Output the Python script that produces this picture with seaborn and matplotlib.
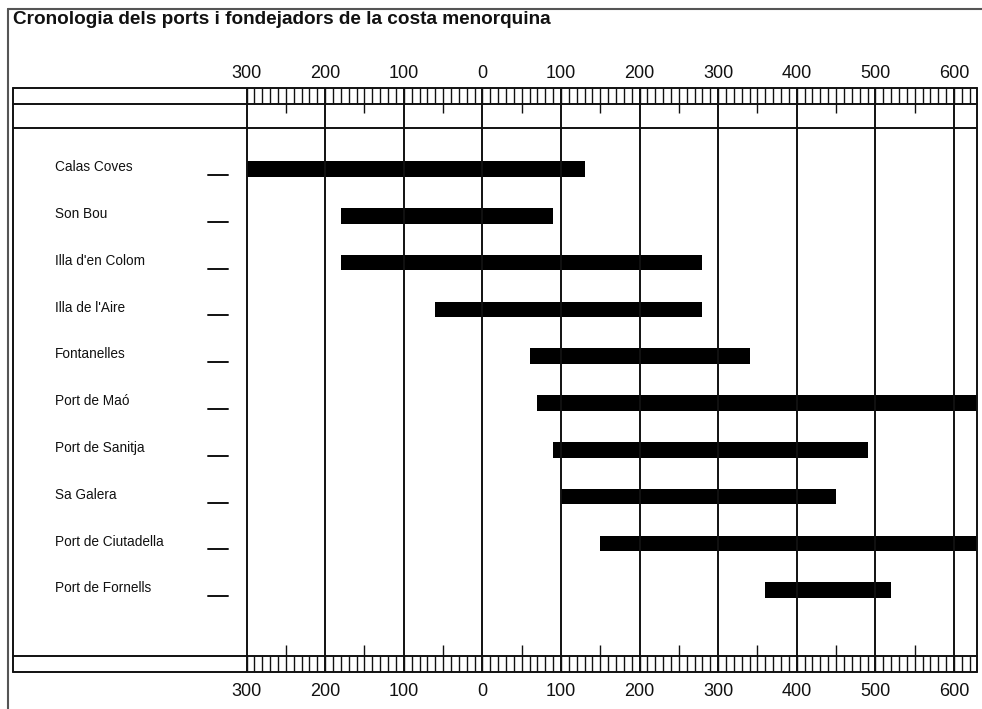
import numpy as np
import pandas as pd
import matplotlib
matplotlib.use("Agg")
import matplotlib.pyplot as plt
import matplotlib.transforms as mtransforms
from matplotlib.lines import Line2D
import seaborn as sns

# ---- data (years; BC negative) ----
sites = ["Calas Coves", "Son Bou", "Illa d'en Colom", "Illa de l'Aire", "Fontanelles",
         "Port de Maó", "Port de Sanitja", "Sa Galera", "Port de Ciutadella", "Port de Fornells"]
start_year = [-300, -180, -180, -60, 60, 70, 90, 100, 150, 360]
end_year = [130, 90, 280, 280, 340, 640, 490, 450, 640, 520]
tick_years = [-300, -200, -100, 0, 100, 200, 300, 400, 500, 600]
tick_labels = ["300", "200", "100", "0", "100", "200", "300", "400", "500", "600"]
title = "Cronologia dels ports i fondejadors de la costa menorquina"

df = pd.DataFrame({"site": sites, "start": start_year, "end": end_year})
df["dur"] = df["end"] - df["start"]

sns.set_style("white")
plt.rcParams["font.family"] = ["Liberation Sans", "DejaVu Sans"]

W, H = 982, 709
fig = plt.figure(figsize=(W / 100, H / 100), dpi=100)
ax_l, ax_r, ax_t, ax_b = 13, 977, 88, 672
ax = fig.add_axes([ax_l / W, (H - ax_b) / H, (ax_r - ax_l) / W, (ax_b - ax_t) / H])

sns.barplot(data=df, x="dur", y="site", orient="h", color="black", saturation=1,
            width=0.33, errorbar=None, linewidth=0, left=df["start"].to_numpy(), ax=ax)

# axis scaling
ax.set_xlim(-597.2, 629.3)
row_px0, row_dpx = 169, 46.8
ax.set_ylim((ax_b - row_px0) / row_dpx, (ax_t - row_px0) / row_dpx)

for s in ax.spines.values():
    s.set_visible(False)
ax.set_xlabel("")
ax.set_ylabel("")
ax.tick_params(axis="y", left=False, labelleft=False)
ax.set_xticks(tick_years)
ax.set_xticklabels(tick_labels)
ax.tick_params(axis="x", which="both", top=False, bottom=False, labeltop=False,
               labelbottom=True, length=0, labelsize=13, pad=8, colors="#111111")
top = ax.secondary_xaxis("top")
top.set_xticks(tick_years)
top.set_xticklabels(tick_labels)
top.tick_params(axis="x", length=0, labelsize=13, pad=4, colors="#111111")
for s in top.spines.values():
    s.set_visible(False)

def fy(px):
    return (ax_b - px) / (ax_b - ax_t)

bt = mtransforms.blended_transform_factory(ax.transData, ax.transAxes)
lc = "#111111"
# horizontal frame lines
for py in [88, 104, 128, 656, 672]:
    ax.plot([0, 1], [fy(py), fy(py)], color=lc, lw=1.4, transform=ax.transAxes, clip_on=False)
ax.plot([0, 0], [0, 1], color=lc, lw=1.4, transform=ax.transAxes, clip_on=False)
ax.plot([1, 1], [0, 1], color=lc, lw=1.4, transform=ax.transAxes, clip_on=False)

# ruler ticks
minor = np.arange(-300, 630, 10)
ax.vlines(minor, fy(104), fy(88), color=lc, lw=1.0, transform=bt)
ax.vlines(minor, fy(672), fy(656), color=lc, lw=1.0, transform=bt)
mid = np.arange(-250, 630, 100)
ax.vlines(mid, fy(113), fy(104), color=lc, lw=1.0, transform=bt)
ax.vlines(mid, fy(656), fy(645), color=lc, lw=1.0, transform=bt)
# century grid lines
ax.vlines(tick_years, 0, 1, color=lc, lw=1.4, transform=bt)

# row labels and dashes
lt = mtransforms.blended_transform_factory(ax.transAxes, ax.transData)
for k, name in enumerate(sites):
    ax.text((55 - ax_l) / (ax_r - ax_l), k - 0.04, name, transform=lt,
            ha="left", va="center", fontsize=9.8, color="#111111")
    ax.plot([(208 - ax_l) / (ax_r - ax_l), (228 - ax_l) / (ax_r - ax_l)],
            [k + 0.13, k + 0.13], color=lc, lw=1.4, transform=lt)

# title
fig.text(13 / W, 1 - 19.5 / H, title, ha="left", va="center", fontsize=13.7,
         fontweight="bold", color="#111111")

# page frame
fig.add_artist(Line2D([8 / W, 8 / W], [0, 1 - 9 / H], transform=fig.transFigure,
                      color="#555555", lw=1.5))
fig.add_artist(Line2D([8 / W, 1], [1 - 9 / H, 1 - 9 / H], transform=fig.transFigure,
                      color="#555555", lw=1.5))

fig.savefig("out.png", dpi=100)
